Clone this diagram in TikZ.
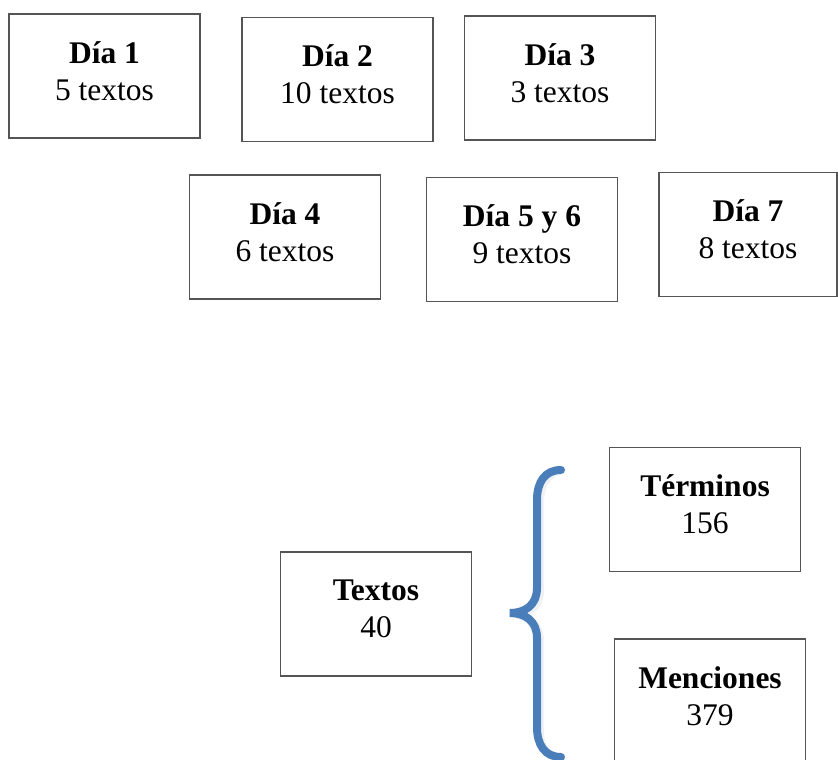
\documentclass[tikz,border=0pt]{standalone}
\usepackage{fontspec}
\setmainfont{Liberation Serif}
\definecolor{boxgray}{HTML}{555555}
\definecolor{braceblue}{HTML}{4A7EBB}
\newcommand{\bigtxt}{\fontsize{31.5}{37}\selectfont}
\tikzset{
  box/.style={draw=boxgray, line width=1.2pt, minimum width=191pt, minimum height=124pt, inner sep=0pt},
  lbl/.style={align=center, inner sep=0pt, font=\bigtxt}
}
\begin{document}
\begin{tikzpicture}[x=1pt,y=-1pt]
\useasboundingbox (0,0) rectangle (838,760);
\clip (0,0) rectangle (838,760);
% boxes
\node[box] (d1) at (104.5,76) {};
\node[box] (d2) at (337.5,79.5) {};
\node[box] (d3) at (560,78) {};
\node[box] (d4) at (285,237) {};
\node[box] (d56) at (522,239.5) {};
\node[box, minimum width=178pt] (d7) at (748,234.5) {};
\node[box] (tx) at (376,614) {};
\node[box] (te) at (705,509.5) {};
\node[box] (me) at (710,701) {};
% labels
\node[lbl] (d1t) at ([yshift=5pt]d1.center) {\textbf{Día 1}\\5 textos};
\node[lbl] (d2t) at ([yshift=5pt]d2.center) {\textbf{Día 2}\\10 textos};
\node[lbl] (d3t) at ([yshift=5pt]d3.center) {\textbf{Día 3}\\3 textos};
\node[lbl] (d4t) at ([yshift=5pt]d4.center) {\textbf{Día 4}\\6 textos};
\node[lbl] (d56t) at ([yshift=5pt]d56.center) {\textbf{Día 5 y 6}\\9 textos};
\node[lbl] (d7t) at ([yshift=5pt]d7.center) {\textbf{Día 7}\\8 textos};
\node[lbl] (txt) at ([yshift=5pt]tx.center) {\textbf{Textos}\\40};
\node[lbl] (tet) at ([yshift=5pt]te.center) {\textbf{Términos}\\156};
\node[lbl] (met) at ([yshift=5pt]me.center) {\textbf{Menciones}\\379};
% brace
\coordinate (btop) at (561,470);
\coordinate (btip) at (510,613);
\coordinate (bbot) at (561,757);
\draw[braceblue!40!gray!30, line width=8pt, line cap=round, opacity=0.35, xshift=3pt, yshift=-3pt]
  (btop) .. controls (545,470) and (537,482) .. (537,500)
  -- (537,588) .. controls (537,605) and (525,613) .. (btip)
  .. controls (525,613) and (537,621) .. (537,638)
  -- (537,727) .. controls (537,745) and (545,757) .. (bbot);
\draw[braceblue, line width=8pt, line cap=round]
  (btop) .. controls (545,470) and (537,482) .. (537,500)
  -- (537,588) .. controls (537,605) and (525,613) .. (btip)
  .. controls (525,613) and (537,621) .. (537,638)
  -- (537,727) .. controls (537,745) and (545,757) .. (bbot);
\end{tikzpicture}
\end{document}
